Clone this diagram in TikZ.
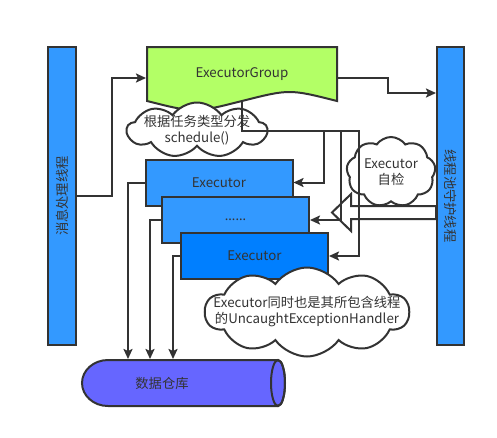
\documentclass[tikz,border=0pt]{standalone}
\usepackage{fontspec}
\setmainfont{Noto Sans CJK SC}
\newfontfamily\latinfont{Noto Sans}
\usepackage{tikz}
\usetikzlibrary{shapes,arrows.meta,positioning,calc}
\definecolor{threadcolor}{RGB}{51,153,255}
\definecolor{groupcolor}{RGB}{179,255,102}
\definecolor{execcolor}{RGB}{51,153,255}
\definecolor{lastexeccolor}{RGB}{0,127,255}
\definecolor{storecolor}{RGB}{102,102,255}
\definecolor{linecolor}{RGB}{51,51,51}

\begin{document}
\begin{tikzpicture}[
    x=1pt, y=-1pt,
    line width=2pt,
    font=\fontsize{13.3pt}{16pt}\selectfont,
    text=linecolor,
    thread/.style={rectangle, draw=linecolor, fill=threadcolor, minimum width=28pt, minimum height=298pt, inner sep=0pt},
    executor/.style={rectangle, draw=linecolor, fill=execcolor, minimum width=147pt, minimum height=46pt, inner sep=0pt},
    note/.style={cloud, draw=linecolor, fill=white, cloud puffs=9, cloud puff arc=110, cloud ignores aspect, inner sep=0pt},
    arrow/.style={-{Stealth[length=10pt, width=9pt, inset=2pt]}, draw=linecolor}
]
\useasboundingbox (0,0) rectangle (497,437);

% Threads
\node[thread, label={[rotate=90]center:消息处理线程}] (msg_thread) at (62,196) {};
\node[thread, minimum width=27pt, label={[rotate=-90]center:线程池守护线程}] (daemon_thread) at (450.5,196) {};

% Executor Group (document shape)
\filldraw[draw=linecolor, fill=groupcolor] (147,47) -- (337,47) -- (337,101)
    .. controls (289.5,89) .. (242,101) .. controls (194.5,113) .. (147,101) -- cycle;
\node[minimum width=190pt, minimum height=54pt, inner sep=0pt] (exec_group) at (242,74) {ExecutorGroup};

% Executors
\node[executor] (executor_a) at (219,182.5) {Executor};
\node[executor] (executor_b) at (235.5,220) {\latinfont ……};
\node[executor, fill=lastexeccolor] (executor_c) at (254.5,256) {Executor};

% Data Store (cylinder)
\filldraw[draw=linecolor, fill=storecolor] (108,360) -- (278,360)
    arc[start angle=-90, end angle=90, x radius=7, y radius=23] -- (108,406)
    arc[start angle=90, end angle=270, x radius=26, y radius=23] -- cycle;
\draw[draw=linecolor] (278,383) ellipse [x radius=7, y radius=23];
\node[minimum height=46pt, inner sep=0pt] (data_store) at (162,383) {数据仓库};

% Notes
\node[note, minimum width=140pt, minimum height=55pt,
      label={[align=center]center:根据任务类型分发\\schedule()}] (dispatch_note) at (197,130) {};
\node[note, minimum width=89pt, minimum height=70pt,
      label={[align=center]center:Executor\\自检}] (check_note) at (391,172) {};
\node[note, cloud puffs=10, minimum width=204pt, minimum height=89pt,
      label={[align=center]center:Executor同时也是其所包含线程\\的UncaughtExceptionHandler}] (handler_note) at (307,312) {};

% Self check (hollow arrow)
\draw[draw=linecolor, fill=white] ($(daemon_thread.west)+(0,10)$) -- ++(-85,0) -- ++(0,-12)
    -- ++(-19,18.5) -- ++(19,18.5) -- ++(0,-12) -- ++(85,0) -- cycle;

% Arrows
\draw[arrow] (msg_thread.east) -| ++(35,-118) -- ([yshift=-4pt]exec_group.west);
\draw[arrow] ([yshift=-4pt]exec_group.east) -| ++(50,15) -- ($(daemon_thread.west)+(0,-103)$);
\draw[arrow] (exec_group.south) -- ++(0,29) -| ($(executor_a.east)+(30,0)$) -- (executor_a.east);
\draw[arrow] (exec_group.south) -- ++(0,29) -| ($(executor_b.east)+(31,0)$) -- (executor_b.east);
\draw[arrow] (exec_group.south) -- ++(0,29) -| ($(executor_c.east)+(30,0)$) -- (executor_c.east);
\draw[arrow] (executor_a.west) -| ($(data_store.north)+(-34,0)$);
\draw[arrow] (executor_b.west) -| ($(data_store.north)+(-12,0)$);
\draw[arrow] (executor_c.west) -| ($(data_store.north)+(11,0)$);

\end{tikzpicture}
\end{document}
